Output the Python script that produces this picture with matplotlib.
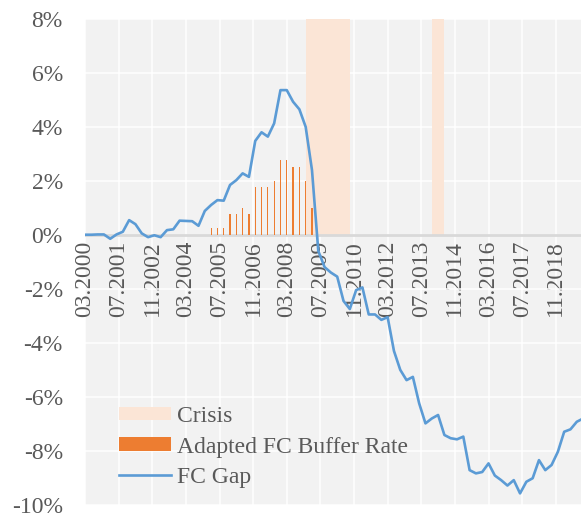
import matplotlib
matplotlib.use("Agg")
import numpy as np
import matplotlib.pyplot as plt

# quarterly FC gap (%), first point 03.2000
gap_start = "03.2000"
fc_gap = [0.00, 0.00, 0.01, 0.01, -0.15, 0.01, 0.11, 0.54, 0.39, 0.05,
          -0.09, -0.02, -0.09, 0.17, 0.20, 0.52, 0.51, 0.50, 0.33, 0.88,
          1.10, 1.28, 1.26, 1.84, 2.02, 2.27, 2.14, 3.47, 3.79, 3.63,
          4.12, 5.35, 5.35, 4.92, 4.64, 3.99, 2.39,
          -0.60, -1.20, -1.40, -1.55, -2.45, -2.75, -2.05, -1.95, -2.95, -2.95,
          -3.15, -3.05, -4.30, -5.00, -5.38, -5.26, -6.24, -6.98, -6.80, -6.67,
          -7.41, -7.53, -7.57, -7.47, -8.71, -8.83, -8.78, -8.46, -8.91, -9.08,
          -9.28, -9.08, -9.57, -9.14, -9.01, -8.34, -8.71, -8.52, -8.03, -7.29,
          -7.20, -6.92, -6.80]

# quarterly adapted FC buffer rate (%), first bar 03.2005
buffer_start = "03.2005"
buffer_rate = [0.25, 0.25, 0.25, 0.75, 0.75, 1.00, 0.75, 1.75, 1.75, 1.75,
               2.00, 2.75, 2.75, 2.50, 2.50, 2.00, 1.00]

crisis_periods = [("12.2008", "09.2010"), ("12.2013", "06.2014")]

tick_labels = ["03.2000", "07.2001", "11.2002", "03.2004", "07.2005",
               "11.2006", "03.2008", "07.2009", "11.2010", "03.2012",
               "07.2013", "11.2014", "03.2016", "07.2017", "11.2018"]


def month_index(s):
    # months since 03.2000
    m, y = s.split(".")
    return (int(y) - 2000) * 12 + int(m) - 3


grey_text = "#595959"
serif = ["Liberation Serif", "DejaVu Serif"]
plt.rcParams["font.family"] = serif
plt.rcParams["font.size"] = 17

fig = plt.figure(figsize=(5.81, 5.18), dpi=100)
ax = fig.add_axes([85 / 581, 13 / 518, 1 - 85 / 581, (505 - 18.5) / 518])
ax.set_facecolor("#F2F2F2")
for s in ax.spines.values():
    s.set_visible(False)
ax.spines["bottom"].set_position(("data", 0))

# crisis shading (0 to 8%)
crisis_handle = None
for a, b in crisis_periods:
    x0, x1 = month_index(a), month_index(b)
    crisis_handle = ax.bar(x0, 8, width=x1 - x0, align="edge",
                           color="#FBE5D6", zorder=2)

x_buf = month_index(buffer_start) + 3 * np.arange(len(buffer_rate))
buf_handle = ax.bar(x_buf, buffer_rate, width=0.55, color="#ED7D31", zorder=3)

ax.axhline(0, color="#D9D9D9", lw=2.0, zorder=2.5)

x_gap = month_index(gap_start) + 3 * np.arange(len(fc_gap))
gap_handle, = ax.plot(x_gap, fc_gap, color="#5B9BD5", lw=1.9, zorder=4)

ax.set_xlim(0, 236)
ax.set_ylim(-10, 8)

ticks = [month_index(t) for t in tick_labels]
ax.set_xticks(ticks)
ax.set_xticklabels(tick_labels, rotation=90, color=grey_text, family=serif,
                   ha="center", va="top")
ax.set_yticks(np.arange(-10, 9, 2))
ax.set_yticklabels([f"{v}%" for v in range(-10, 9, 2)], color=grey_text,
                   family=serif)

ax.grid(True, color="white", lw=1.1, zorder=1)
ax.set_axisbelow(True)
ax.tick_params(axis="x", length=0, pad=4)
ax.tick_params(axis="y", length=0, pad=16)

leg = ax.legend([crisis_handle, buf_handle, gap_handle],
                ["Crisis", "Adapted FC Buffer Rate", "FC Gap"],
                loc="center left", bbox_to_anchor=(119 / 581, 1 - 447 / 518),
                bbox_transform=fig.transFigure, frameon=False,
                handlelength=2.2, handleheight=0.5, handletextpad=0.25,
                labelspacing=0.4, borderpad=0, borderaxespad=0)
for t in leg.get_texts():
    t.set_color(grey_text)

fig.savefig("out.png", dpi=100)
